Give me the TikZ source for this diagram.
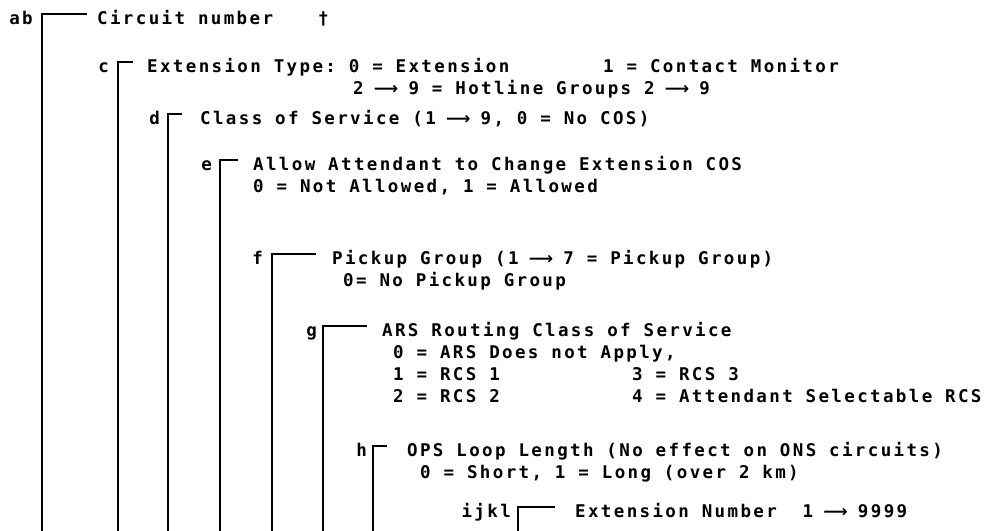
\documentclass[tikz,border=0pt]{standalone}
\usepackage{fontspec}
\setmonofont[LetterSpace=13.5]{DejaVu Sans Mono}
\newfontfamily\arrowfont{DejaVu Sans}
\usetikzlibrary{positioning}
\newcommand{\codefont}{\fontsize{17.5pt}{22pt}\selectfont\ttfamily\bfseries}
\newcommand{\too}{\makebox[19pt]{\arrowfont\fontsize{17pt}{17pt}\selectfont ⟶}}

\begin{document}
\begin{tikzpicture}[
  x=1pt, y=-1pt,
  lab/.style={anchor=base east, inner sep=0pt, font=\codefont},
  txt/.style={anchor=base west, inner sep=0pt, font=\codefont},
  bracket/.style={line width=2.6pt, black}
]
\useasboundingbox (0,0) rectangle (998,530);

% ab: circuit number
\node[lab] (ab) at (33,24) {ab};
\node[txt] (circuit) at (97,24) {Circuit number};
\node[txt] (dagger) at (318,24) {†};
\coordinate (ab-end) at (87,14);
\coordinate (ab-top) at (42,14);
\coordinate (ab-foot) at (42,531);

% c: extension type
\node[lab] (c) at (109,72) {c};
\node[txt] (ctype) at (147,72) {Extension Type: 0 = Extension};
\node[txt] (cmon) at (603,72) {1 = Contact Monitor};
\node[txt] (chot) at (353,94) {2 \too{} 9 = Hotline Groups 2 \too{} 9};
\coordinate (c-end) at (133,62);
\coordinate (c-top) at (118,62);
\coordinate (c-foot) at (118,531);

% d: class of service
\node[lab] (d) at (160,124) {d};
\node[txt] (dcos) at (200,124) {Class of Service (1 \too{} 9, 0 = No COS)};
\coordinate (d-end) at (182,114);
\coordinate (d-top) at (168,114);
\coordinate (d-foot) at (168,531);

% e: attendant change
\node[lab] (e) at (212,170) {e};
\node[txt] (eatt) at (253,170) {Allow Attendant to Change Extension COS};
\node[txt] (eval) at (253,192) {0 = Not Allowed, 1 = Allowed};
\coordinate (e-end) at (238,160);
\coordinate (e-top) at (220,160);
\coordinate (e-foot) at (220,531);

% f: pickup group
\node[lab] (f) at (263,264) {f};
\node[txt] (fpick) at (332,264) {Pickup Group (1 \too{} 7 = Pickup Group)};
\node[txt] (fnone) at (343,286) {0= No Pickup Group};
\coordinate (f-end) at (316,254);
\coordinate (f-top) at (272,254);
\coordinate (f-foot) at (272,531);

% g: ARS routing
\node[lab] (g) at (317,336) {g};
\node[txt] (gars) at (382,336) {ARS Routing Class of Service};
\node[txt] (gzero) at (393,358) {0 = ARS Does not Apply,};
\node[txt] (gone) at (393,380) {1 = RCS 1};
\node[txt] (gthree) at (632,380) {3 = RCS 3};
\node[txt] (gtwo) at (393,402) {2 = RCS 2};
\node[txt] (gfour) at (632,402) {4 = Attendant Selectable RCS};
\coordinate (g-end) at (367,326);
\coordinate (g-top) at (323,326);
\coordinate (g-foot) at (323,531);

% h: OPS loop length
\node[lab] (h) at (367,456) {h};
\node[txt] (hops) at (407,456) {OPS Loop Length (No effect on ONS circuits)};
\node[txt] (hlen) at (420,478) {0 = Short, 1 = Long (over 2 km)};
\coordinate (h-end) at (387,446);
\coordinate (h-top) at (373,446);
\coordinate (h-foot) at (373,531);

% ijkl: extension number
\node[lab] (ijkl) at (511,517) {ijkl};
\node[txt] (iext) at (575,517) {Extension Number~~1 \too{} 9999};
\coordinate (i-end) at (555,507);
\coordinate (i-top) at (518,507);
\coordinate (i-foot) at (518,531);

\draw[bracket] (ab-end) -- (ab-top) -- (ab-foot);
\draw[bracket] (c-end) -- (c-top) -- (c-foot);
\draw[bracket] (d-end) -- (d-top) -- (d-foot);
\draw[bracket, line width=1.8pt] (e-end) -- (e-top) -- (e-foot);
\draw[bracket] (f-end) -- (f-top) -- (f-foot);
\draw[bracket] (g-end) -- (g-top) -- (g-foot);
\draw[bracket] (h-end) -- (h-top) -- (h-foot);
\draw[bracket] (i-end) -- (i-top) -- (i-foot);
\end{tikzpicture}
\end{document}
